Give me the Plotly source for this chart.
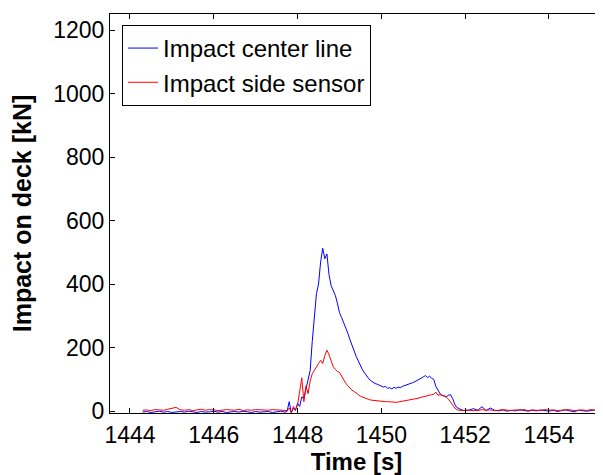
import plotly.graph_objects as go

# ---- data ----
time_s = [
    1444.3, 1444.4, 1444.5, 1444.6, 1444.7, 1444.8, 1444.9, 1445.0, 1445.1, 1445.2,
    1445.3, 1445.4, 1445.5, 1445.6, 1445.7, 1445.8, 1445.9, 1446.0, 1446.1, 1446.2,
    1446.3, 1446.4, 1446.5, 1446.6, 1446.7, 1446.8, 1446.9, 1447.0, 1447.1, 1447.2,
    1447.3, 1447.4, 1447.5, 1447.6, 1447.7,
    1447.75, 1447.80, 1447.85, 1447.90, 1447.95, 1448.00, 1448.05, 1448.10, 1448.15, 1448.20,
    1448.25, 1448.30, 1448.35, 1448.40, 1448.45, 1448.50, 1448.55, 1448.60, 1448.65, 1448.70,
    1448.75, 1448.80, 1448.85, 1448.90, 1448.95, 1449.00, 1449.05, 1449.10, 1449.15, 1449.20,
    1449.25, 1449.30, 1449.35, 1449.40, 1449.45, 1449.50, 1449.55, 1449.60, 1449.65, 1449.70,
    1449.75, 1449.80, 1449.85, 1449.90, 1449.95, 1450.00, 1450.05, 1450.10, 1450.15, 1450.20,
    1450.25, 1450.30, 1450.35, 1450.40, 1450.45, 1450.50, 1450.55, 1450.60, 1450.65, 1450.70,
    1450.75, 1450.80, 1450.85, 1450.90, 1450.95, 1451.00, 1451.05, 1451.10, 1451.15, 1451.20,
    1451.25, 1451.30, 1451.35, 1451.40, 1451.45, 1451.50, 1451.55, 1451.60, 1451.65, 1451.70,
    1451.75, 1451.80, 1451.85, 1451.90, 1451.95, 1452.00,
    1452.1, 1452.2, 1452.3, 1452.4, 1452.5, 1452.6, 1452.7, 1452.8, 1452.9, 1453.0,
    1453.1, 1453.2, 1453.3, 1453.4, 1453.5, 1453.6, 1453.7, 1453.8, 1453.9, 1454.0,
    1454.1, 1454.2, 1454.3, 1454.4, 1454.5, 1454.6, 1454.7, 1454.8, 1454.9, 1455.0,
    1455.1, 1455.2, 1455.3,
]

impact_center_line = [
    -3, -1, -4, -2, 0, -3, -1, -4, -2, -1,
    -3, 0, -2, -4, -1, -3, -2, 0, -3, -1,
    -4, -2, -1, -3, 0, -2, -4, -1, -3, -2,
    -1, -4, -2, 0, -3,
    0, 30, -5, 10, 2, 25, 15, 45, 40, 70,
    95, 128, 220, 310, 370, 400, 470, 513, 480, 495,
    430, 395, 380, 365, 340, 310, 295, 280, 265, 245,
    225, 205, 190, 172, 158, 142, 130, 120, 110, 102,
    96, 90, 87, 85, 82, 80, 76, 78, 72, 74,
    70, 75, 72, 76, 74, 78, 80, 83, 85, 88,
    90, 93, 96, 100, 104, 108, 112, 106, 110, 104,
    100, 78, 65, 55, 50, 48, 46, 50, 52, 40,
    22, 12, 8, 5, 3, 2,
    4, 8, 3, 14, 2, 10, 3, 1, 4, 0,
    3, 1, 5, 2, 0, 3, 1, 4, 2, 0,
    3, -1, 2, 4, 1, -2, 3, 1, 0, 2,
    4, 1, 3,
]

impact_side_sensor = [
    3, 4, 2, 5, 4, 3, 6, 9, 12, 4,
    3, 5, 2, 4, 6, 3, 5, 4, 2, 3,
    5, 4, 3, 6, 2, 4, 3, 5, 4, 2,
    3, 5, 4, 3, 2,
    2, 10, -5, 15, 5, 20, 60, 105, 30, 80,
    55, 95, 118, 130, 140, 150, 160, 150, 175, 192,
    178, 160, 140, 132, 125, 122, 110, 98, 88, 80,
    72, 66, 62, 58, 52, 47, 44, 41, 39, 37,
    35, 34, 33, 33, 32, 32, 31, 30, 30, 29,
    29, 28, 28, 29, 30, 31, 32, 34, 35, 36,
    37, 39, 40, 42, 44, 46, 48, 50, 51, 52,
    53, 60, 50, 52, 50, 48, 44, 38, 30, 20,
    10, 5, 3, 2, 2, 3,
    3, 4, 2, 5, 3, 4, 2, 3, 5, 3,
    2, 4, 3, 5, 2, 4, 3, 2, 5, 3,
    4, 2, 3, 5, 4, 2, 3, 4, 2, 5,
    3, 4, 3,
]

x_ticks = [1444, 1446, 1448, 1450, 1452, 1454]
y_ticks = [0, 200, 400, 600, 800, 1000, 1200]

FONT = "Liberation Sans, Arial, sans-serif"

fig = go.Figure()
fig.add_trace(go.Scatter(x=time_s, y=impact_center_line, mode="lines",
                         name="Impact center line",
                         line=dict(color="#0000FF", width=1)))
fig.add_trace(go.Scatter(x=time_s, y=impact_side_sensor, mode="lines",
                         name="Impact side sensor",
                         line=dict(color="#FF0000", width=1)))

# the page body adds an 8px offset; the figure is sized to fill the rest of the window
fig.update_layout(
    width=595, height=467,
    margin=dict(l=102, r=0, t=6, b=62, autoexpand=False),
    paper_bgcolor="white", plot_bgcolor="white",
    font=dict(family=FONT, color="black", size=23),
    showlegend=True,
    legend=dict(
        x=0.0243, y=0.9725, xanchor="left", yanchor="top",
        bgcolor="white", bordercolor="black", borderwidth=1,
        font=dict(family=FONT, size=24, color="black"),
        tracegroupgap=0,
        entrywidth=240, entrywidthmode="pixels",
    ),
    xaxis=dict(
        range=[1443.523, 1455.289], automargin=False,
        tickmode="array", tickvals=x_ticks,
        ticks="inside", ticklen=5, tickcolor="black", tickwidth=1,
        showline=True, linecolor="black", linewidth=1, mirror="ticks",
        showgrid=False, zeroline=False,
        ticklabelstandoff=1,
        tickfont=dict(family=FONT, size=23, color="black"),
        title=dict(text="<b>Time [s]</b>", font=dict(family=FONT, size=24, color="black"),
                   standoff=11),
    ),
    yaxis=dict(
        range=[-5.7, 1250.4], automargin=False,
        tickmode="array", tickvals=y_ticks,
        ticks="inside", ticklen=5, tickcolor="black", tickwidth=1,
        showline=True, linecolor="black", linewidth=1, mirror=False,
        showgrid=False, zeroline=False,
        tickfont=dict(family=FONT, size=23, color="black"),
        title=dict(text="<b>Impact on deck [kN]</b>", font=dict(family=FONT, size=25, color="black"),
                   standoff=15),
    ),
)

fig.write_html("out.html")
